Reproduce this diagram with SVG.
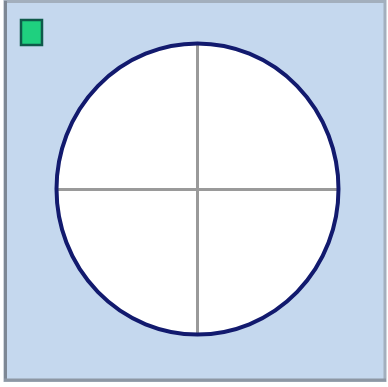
<svg xmlns="http://www.w3.org/2000/svg" width="388" height="387" viewBox="0 0 388 387">
<style>
.cross{stroke:#9a9a9a;stroke-width:3;fill:none}
</style>
<rect x="0" y="0" width="388" height="387" fill="#ffffff"/>
<rect id="panel" x="5" y="1.5" width="380" height="379" fill="#c5d8ee" stroke="#a3afbd" stroke-width="3"/>
<line x1="5.5" y1="1" x2="5.5" y2="381" stroke="#7d8794" stroke-width="3"/>
<line x1="4" y1="380" x2="386" y2="380" stroke="#8d97a4" stroke-width="3"/>
<g id="marker-square">
<rect x="21" y="20" width="21" height="25" fill="#1fd07f" stroke="#0f5a4a" stroke-width="2.5"/>
</g>
<g id="circle">
<ellipse cx="197.5" cy="189" rx="141" ry="145.5" fill="#ffffff"/>
</g>
<g id="connectors">
<line class="cross" x1="197.5" y1="44" x2="197.5" y2="334"/>
<line class="cross" x1="57" y1="189.5" x2="338" y2="189.5"/>
</g>
<ellipse cx="197.5" cy="189" rx="141" ry="145.5" fill="none" stroke="#121a6e" stroke-width="4"/>
</svg>
